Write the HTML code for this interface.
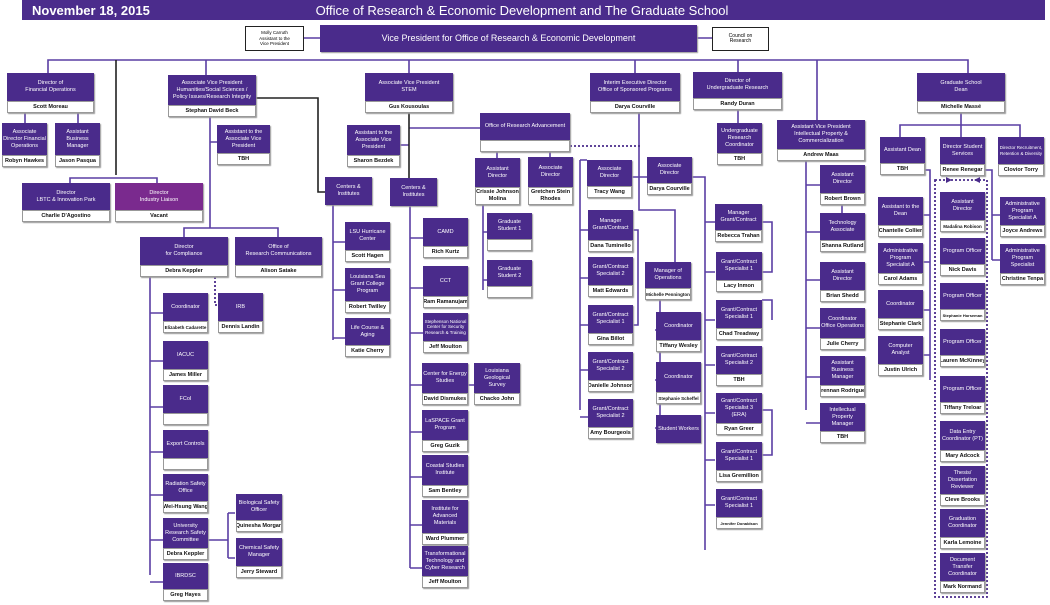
<!DOCTYPE html>
<html><head><meta charset="utf-8"><style>
body{margin:0;width:1050px;height:605px;background:#fff;position:relative;overflow:hidden;font-family:"Liberation Sans",sans-serif}
.b{position:absolute;display:flex;flex-direction:column;box-shadow:1px 1px 1px #999}
.t{flex:1;background:#4a2b8b;color:#fff;font-size:5.5px;line-height:7px;display:flex;align-items:center;justify-content:center;text-align:center;padding:0 1px}
.n{height:10px;background:#fff;border:1px solid #999;font-size:5.5px;font-weight:bold;display:flex;align-items:center;justify-content:center;white-space:nowrap;overflow:hidden;color:#111}
.w{position:absolute;border:1px solid #222;background:#fff;font-size:4.5px;line-height:5.5px;text-align:center;display:flex;align-items:center;justify-content:center}
svg{position:absolute;left:0;top:0}
</style></head><body>
<div style="position:absolute;left:22px;top:0;width:1023px;height:20px;background:#4b2c8c;color:#fff">
<span style="position:absolute;left:10px;top:3px;font-size:13px;font-weight:bold">November 18, 2015</span>
<span style="position:absolute;left:0;width:1000px;text-align:center;top:3px;font-size:13px">Office of Research &amp; Economic Development and The Graduate School</span></div>
<svg width="1050" height="605">
<g stroke="#5a3ea3" stroke-width="1.6" fill="none">
<path d="M48 73V60H968V73M206 60V75M409 60V73M635 60V73M738 60V72M817 60V120"/>
<path d="M303 38H320M697 38H712"/>
<path d="M25 113V123M78 113V123"/>
<path d="M70 183V178H157V183"/>
<path d="M210 117V228M210 142H217M184 237V228H278V237"/>
<path d="M150 277V575M150 313H163M150 361H163M150 407H163M150 452H163M150 495H163M150 540H163M150 582H163M208 540H228M228 513V558M228 513H235M228 558H235"/>
<path d="M409 128H480M400 145H409"/>
<path d="M333 205V340M333 242H345M333 290H345M333 338H345"/>
<path d="M410 205V568M410 238H423M410 288H423M410 333H423M410 385H423M410 432H423M410 477H423M410 525H423M410 568H423M468 385H475"/>
<path d="M497 152V158M550 152V158M483 205V290M483 232H487M483 280H487"/>
<path d="M639 113V210H675V262M632 177H639M639 177H647"/>
<path d="M580 160H587M580 160V410M580 230H588M580 278H588M580 325H588M580 370H588M580 417H588M633 230H638V325H633"/>
<path d="M660 300V432M660 330H655M660 380H655M660 428H655"/>
<path d="M692 177H705V550M705 222H715M705 272H715M705 320H715M705 365H715M705 413H715M705 460H715M705 505H715"/>
<path d="M762 222H772V272H762M762 300H772V320M762 410H772V455H762"/>
<path d="M738 110V123"/>
<path d="M806 161V410M806 185H820M806 232H820M806 280H820M806 328H820M806 377H820M806 423H820M842 205V213"/>
<path d="M961 112V125M900 137V125H1020V137M961 125V137"/>
<path d="M925 170H930V380M930 215H923M930 262H923M930 310H923M930 355H923"/>
<path d="M985 170H992V260M992 215H1000M992 260H1000"/>
</g>
<g stroke="#222" stroke-width="1.6" fill="none"><path d="M116 60V175M256 98H318V192H325M409 113V178"/></g>
<g stroke="#4a2b8b" stroke-width="1.8" fill="none" stroke-dasharray="2,2">
<path d="M570 146H640"/><path d="M215 277V305H218"/>
<rect x="935" y="180" width="52" height="417"/>
</g>
<g fill="#4a2b8b"><path d="M946 180l6-3v6z" transform="rotate(180 949 180)"/><path d="M974 180l6-3v6z"/></g>
</svg>
<div class="w" style="left:245px;top:26px;width:57px;height:23px">Molly Carruth<br>Assistant to the<br>Vice President</div>
<div class="w" style="left:712px;top:27px;width:55px;height:22px;font-size:5px">Council on<br>Research</div>
<div class="b" style="left:320px;top:25px;width:377px;height:27px"><div class="t" style="font-size:9px">Vice President for Office of Research &amp; Economic Development</div></div>

<div class="b" style="left:7px;top:73px;width:87px;height:40px"><div class="t">Director of<br>Financial Operations</div><div class="n">Scott Moreau</div></div>
<div class="b" style="left:2px;top:123px;width:45px;height:44px"><div class="t">Associate Director Financial Operations</div><div class="n">Robyn Hawkes</div></div>
<div class="b" style="left:55px;top:123px;width:45px;height:44px"><div class="t">Assistant Business Manager</div><div class="n">Jason Pasqua</div></div>
<div class="b" style="left:22px;top:183px;width:88px;height:39px"><div class="t">Director<br>LBTC &amp; Innovation Park</div><div class="n">Charlie D'Agostino</div></div>
<div class="b" style="left:115px;top:183px;width:88px;height:39px"><div class="t" style="background:#7a2a8e">Director<br>Industry Liaison</div><div class="n">Vacant</div></div>

<div class="b" style="left:168px;top:75px;width:88px;height:42px"><div class="t">Associate Vice President Humanities/Social Sciences / Policy Issues/Research Integrity</div><div class="n">Stephan David Beck</div></div>
<div class="b" style="left:217px;top:125px;width:53px;height:40px"><div class="t">Assistant to the Associate Vice President</div><div class="n">TBH</div></div>
<div class="b" style="left:140px;top:237px;width:88px;height:40px"><div class="t">Director<br>for Compliance</div><div class="n">Debra Keppler</div></div>
<div class="b" style="left:235px;top:237px;width:87px;height:40px"><div class="t">Office of<br>Research Communications</div><div class="n">Alison Satake</div></div>
<div class="b" style="left:163px;top:293px;width:45px;height:40px"><div class="t">Coordinator</div><div class="n" style="font-size:4.5px">Elizabeth Cadarette</div></div>
<div class="b" style="left:218px;top:293px;width:45px;height:40px"><div class="t">IRB</div><div class="n">Dennis Landin</div></div>
<div class="b" style="left:163px;top:341px;width:45px;height:40px"><div class="t">IACUC</div><div class="n">James Miller</div></div>
<div class="b" style="left:163px;top:385px;width:45px;height:40px"><div class="t">FCoI</div><div class="n"></div></div>
<div class="b" style="left:163px;top:430px;width:45px;height:40px"><div class="t">Export Controls</div><div class="n"></div></div>
<div class="b" style="left:163px;top:474px;width:45px;height:39px"><div class="t">Radiation Safety Office</div><div class="n">Wei-Hsung Wang</div></div>
<div class="b" style="left:163px;top:518px;width:45px;height:42px"><div class="t">University Research Safety Committee</div><div class="n">Debra Keppler</div></div>
<div class="b" style="left:163px;top:563px;width:45px;height:38px"><div class="t">IBRDSC</div><div class="n">Greg Hayes</div></div>
<div class="b" style="left:236px;top:494px;width:46px;height:38px"><div class="t">Biological Safety Officer</div><div class="n">Quinesha Morgan</div></div>
<div class="b" style="left:236px;top:538px;width:46px;height:40px"><div class="t">Chemical Safety Manager</div><div class="n">Jerry Steward</div></div>

<div class="b" style="left:365px;top:73px;width:88px;height:40px"><div class="t">Associate Vice President<br>STEM</div><div class="n">Gus Kousoulas</div></div>
<div class="b" style="left:347px;top:125px;width:53px;height:42px"><div class="t">Assistant to the Associate Vice President</div><div class="n">Sharon Bezdek</div></div>
<div class="b" style="left:325px;top:177px;width:47px;height:28px"><div class="t">Centers &amp; Institutes</div></div>
<div class="b" style="left:390px;top:178px;width:47px;height:28px"><div class="t">Centers &amp; Institutes</div></div>
<div class="b" style="left:345px;top:222px;width:45px;height:40px"><div class="t">LSU Hurricane Center</div><div class="n">Scott Hagen</div></div>
<div class="b" style="left:345px;top:268px;width:45px;height:45px"><div class="t">Louisiana Sea Grant College Program</div><div class="n">Robert Twilley</div></div>
<div class="b" style="left:345px;top:318px;width:45px;height:39px"><div class="t">Life Course &amp; Aging</div><div class="n">Katie Cherry</div></div>
<div class="b" style="left:423px;top:218px;width:45px;height:40px"><div class="t">CAMD</div><div class="n">Rich Kurtz</div></div>
<div class="b" style="left:423px;top:266px;width:45px;height:42px"><div class="t">CCT</div><div class="n">Ram Ramanujam</div></div>
<div class="b" style="left:423px;top:313px;width:45px;height:40px"><div class="t" style="font-size:4.5px;line-height:5.5px">Stephenson National Center for Security Research &amp; Training</div><div class="n">Jeff Moulton</div></div>
<div class="b" style="left:422px;top:363px;width:46px;height:42px"><div class="t">Center for Energy Studies</div><div class="n">David Dismukes</div></div>
<div class="b" style="left:474px;top:363px;width:46px;height:42px"><div class="t">Louisiana Geological Survey</div><div class="n">Chacko John</div></div>
<div class="b" style="left:422px;top:410px;width:46px;height:42px"><div class="t">LaSPACE Grant Program</div><div class="n">Greg Guzik</div></div>
<div class="b" style="left:422px;top:455px;width:46px;height:42px"><div class="t">Coastal Studies Institute</div><div class="n">Sam Bentley</div></div>
<div class="b" style="left:422px;top:500px;width:46px;height:45px"><div class="t">Institute for Advanced Materials</div><div class="n">Ward Plummer</div></div>
<div class="b" style="left:422px;top:546px;width:46px;height:42px"><div class="t">Transformational Technology and Cyber Research</div><div class="n">Jeff Moulton</div></div>

<div class="b" style="left:480px;top:113px;width:90px;height:39px"><div class="t">Office of Research Advancement</div><div class="n"></div></div>
<div class="b" style="left:475px;top:158px;width:45px;height:47px"><div class="t">Assistant Director</div><div class="n" style="height:16px;white-space:normal;text-align:center;line-height:7px">Crissie Johnson Molina</div></div>
<div class="b" style="left:528px;top:157px;width:45px;height:48px"><div class="t">Associate Director</div><div class="n" style="height:16px;white-space:normal;text-align:center;line-height:7px">Gretchen Stein Rhodes</div></div>
<div class="b" style="left:487px;top:213px;width:45px;height:38px"><div class="t">Graduate Student 1</div><div class="n"></div></div>
<div class="b" style="left:487px;top:260px;width:45px;height:38px"><div class="t">Graduate Student 2</div><div class="n"></div></div>

<div class="b" style="left:590px;top:73px;width:90px;height:40px"><div class="t">Interim Executive Director<br>Office of Sponsored Programs</div><div class="n">Darya Courville</div></div>
<div class="b" style="left:587px;top:160px;width:45px;height:38px"><div class="t">Associate Director</div><div class="n">Tracy Wang</div></div>
<div class="b" style="left:647px;top:157px;width:45px;height:38px"><div class="t">Associate Director</div><div class="n">Darya Courville</div></div>
<div class="b" style="left:588px;top:210px;width:45px;height:42px"><div class="t">Manager Grant/Contract</div><div class="n">Dana Tuminello</div></div>
<div class="b" style="left:588px;top:257px;width:45px;height:40px"><div class="t">Grant/Contract Specialist 2</div><div class="n">Matt Edwards</div></div>
<div class="b" style="left:588px;top:305px;width:45px;height:40px"><div class="t">Grant/Contract Specialist 1</div><div class="n">Gina Billot</div></div>
<div class="b" style="left:588px;top:352px;width:45px;height:40px"><div class="t">Grant/Contract Specialist 2</div><div class="n">Danielle Johnson</div></div>
<div class="b" style="left:588px;top:399px;width:45px;height:40px"><div class="t">Grant/Contract Specialist 2</div><div class="n">Amy Bourgeois</div></div>
<div class="b" style="left:645px;top:262px;width:46px;height:38px"><div class="t">Manager of Operations</div><div class="n" style="font-size:4.5px">Michelle Pennington</div></div>
<div class="b" style="left:656px;top:312px;width:45px;height:40px"><div class="t">Coordinator</div><div class="n">Tiffany Wesley</div></div>
<div class="b" style="left:656px;top:362px;width:45px;height:42px"><div class="t">Coordinator</div><div class="n" style="font-size:4.5px">Stephanie Scheffel</div></div>
<div class="b" style="left:656px;top:415px;width:45px;height:28px"><div class="t">Student Workers</div></div>

<div class="b" style="left:715px;top:204px;width:47px;height:38px"><div class="t">Manager Grant/Contract</div><div class="n">Rebecca Trahan</div></div>
<div class="b" style="left:716px;top:252px;width:46px;height:40px"><div class="t">Grant/Contract Specialist 1</div><div class="n">Lacy Inmon</div></div>
<div class="b" style="left:716px;top:300px;width:46px;height:40px"><div class="t">Grant/Contract Specialist 1</div><div class="n">Chad Treadway</div></div>
<div class="b" style="left:716px;top:346px;width:46px;height:40px"><div class="t">Grant/Contract Specialist 2</div><div class="n">TBH</div></div>
<div class="b" style="left:716px;top:393px;width:46px;height:42px"><div class="t">Grant/Contract Specialist 3 (ERA)</div><div class="n">Ryan Greer</div></div>
<div class="b" style="left:716px;top:442px;width:46px;height:40px"><div class="t">Grant/Contract Specialist 1</div><div class="n">Lisa Gremillion</div></div>
<div class="b" style="left:716px;top:489px;width:46px;height:40px"><div class="t">Grant/Contract Specialist 1</div><div class="n" style="font-size:4px">Jennifer Donaldson</div></div>

<div class="b" style="left:693px;top:72px;width:89px;height:38px"><div class="t">Director of<br>Undergraduate Research</div><div class="n">Randy Duran</div></div>
<div class="b" style="left:717px;top:123px;width:45px;height:42px"><div class="t">Undergraduate Research Coordinator</div><div class="n">TBH</div></div>

<div class="b" style="left:777px;top:120px;width:88px;height:41px"><div class="t">Assistant Vice President Intellectual Property &amp; Commercialization</div><div class="n">Andrew Maas</div></div>
<div class="b" style="left:820px;top:165px;width:45px;height:40px"><div class="t">Assistant Director</div><div class="n">Robert Brown</div></div>
<div class="b" style="left:820px;top:213px;width:45px;height:39px"><div class="t">Technology Associate</div><div class="n">Shanna Rutland</div></div>
<div class="b" style="left:820px;top:262px;width:45px;height:40px"><div class="t">Assistant Director</div><div class="n">Brian Shedd</div></div>
<div class="b" style="left:820px;top:308px;width:45px;height:42px"><div class="t">Coordinator Office Operations</div><div class="n">Julie Cherry</div></div>
<div class="b" style="left:820px;top:356px;width:45px;height:41px"><div class="t">Assistant Business Manager</div><div class="n">Brennan Rodriguez</div></div>
<div class="b" style="left:820px;top:403px;width:45px;height:40px"><div class="t">Intellectual Property Manager</div><div class="n">TBH</div></div>

<div class="b" style="left:917px;top:73px;width:88px;height:40px"><div class="t">Graduate School<br>Dean</div><div class="n">Michelle Massé</div></div>
<div class="b" style="left:880px;top:137px;width:45px;height:38px"><div class="t">Assistant Dean</div><div class="n">TBH</div></div>
<div class="b" style="left:940px;top:137px;width:45px;height:39px"><div class="t">Director Student Services</div><div class="n">Renee Renegar</div></div>
<div class="b" style="left:998px;top:137px;width:46px;height:39px"><div class="t" style="font-size:4.5px;line-height:5.5px">Director Recruitment, Retention &amp; Diversity</div><div class="n">Clovior Torry</div></div>
<div class="b" style="left:878px;top:197px;width:45px;height:40px"><div class="t">Assistant to the Dean</div><div class="n">Chantelle Collier</div></div>
<div class="b" style="left:878px;top:243px;width:45px;height:42px"><div class="t">Administrative Program Specialist A</div><div class="n">Carol Adams</div></div>
<div class="b" style="left:878px;top:290px;width:45px;height:40px"><div class="t">Coordinator</div><div class="n">Stephanie Clark</div></div>
<div class="b" style="left:878px;top:336px;width:45px;height:40px"><div class="t">Computer Analyst</div><div class="n">Justin Ulrich</div></div>
<div class="b" style="left:1000px;top:197px;width:45px;height:40px"><div class="t">Administrative Program Specialist A</div><div class="n">Joyce Andrews</div></div>
<div class="b" style="left:1000px;top:244px;width:45px;height:41px"><div class="t">Administrative Program Specialist</div><div class="n">Christine Tenpa</div></div>
<div class="b" style="left:940px;top:192px;width:45px;height:40px"><div class="t">Assistant Director</div><div class="n" style="font-size:4.5px">Madalina Robison</div></div>
<div class="b" style="left:940px;top:238px;width:45px;height:38px"><div class="t">Program Officer</div><div class="n">Nick Davis</div></div>
<div class="b" style="left:940px;top:283px;width:45px;height:38px"><div class="t">Program Officer</div><div class="n" style="font-size:4px">Stephanie Horseman</div></div>
<div class="b" style="left:940px;top:329px;width:45px;height:38px"><div class="t">Program Officer</div><div class="n">Lauren McKinney</div></div>
<div class="b" style="left:940px;top:376px;width:45px;height:38px"><div class="t">Program Officer</div><div class="n">Tiffany Treloar</div></div>
<div class="b" style="left:940px;top:421px;width:45px;height:41px"><div class="t">Data Entry Coordinator (PT)</div><div class="n">Mary Adcock</div></div>
<div class="b" style="left:940px;top:466px;width:45px;height:40px"><div class="t">Thesis/ Dissertation Reviewer</div><div class="n">Cleve Brooks</div></div>
<div class="b" style="left:940px;top:509px;width:45px;height:40px"><div class="t">Graduation Coordinator</div><div class="n">Karla Lemoine</div></div>
<div class="b" style="left:940px;top:553px;width:45px;height:40px"><div class="t">Document Transfer Coordinator</div><div class="n">Mark Normand</div></div>
</body></html>
